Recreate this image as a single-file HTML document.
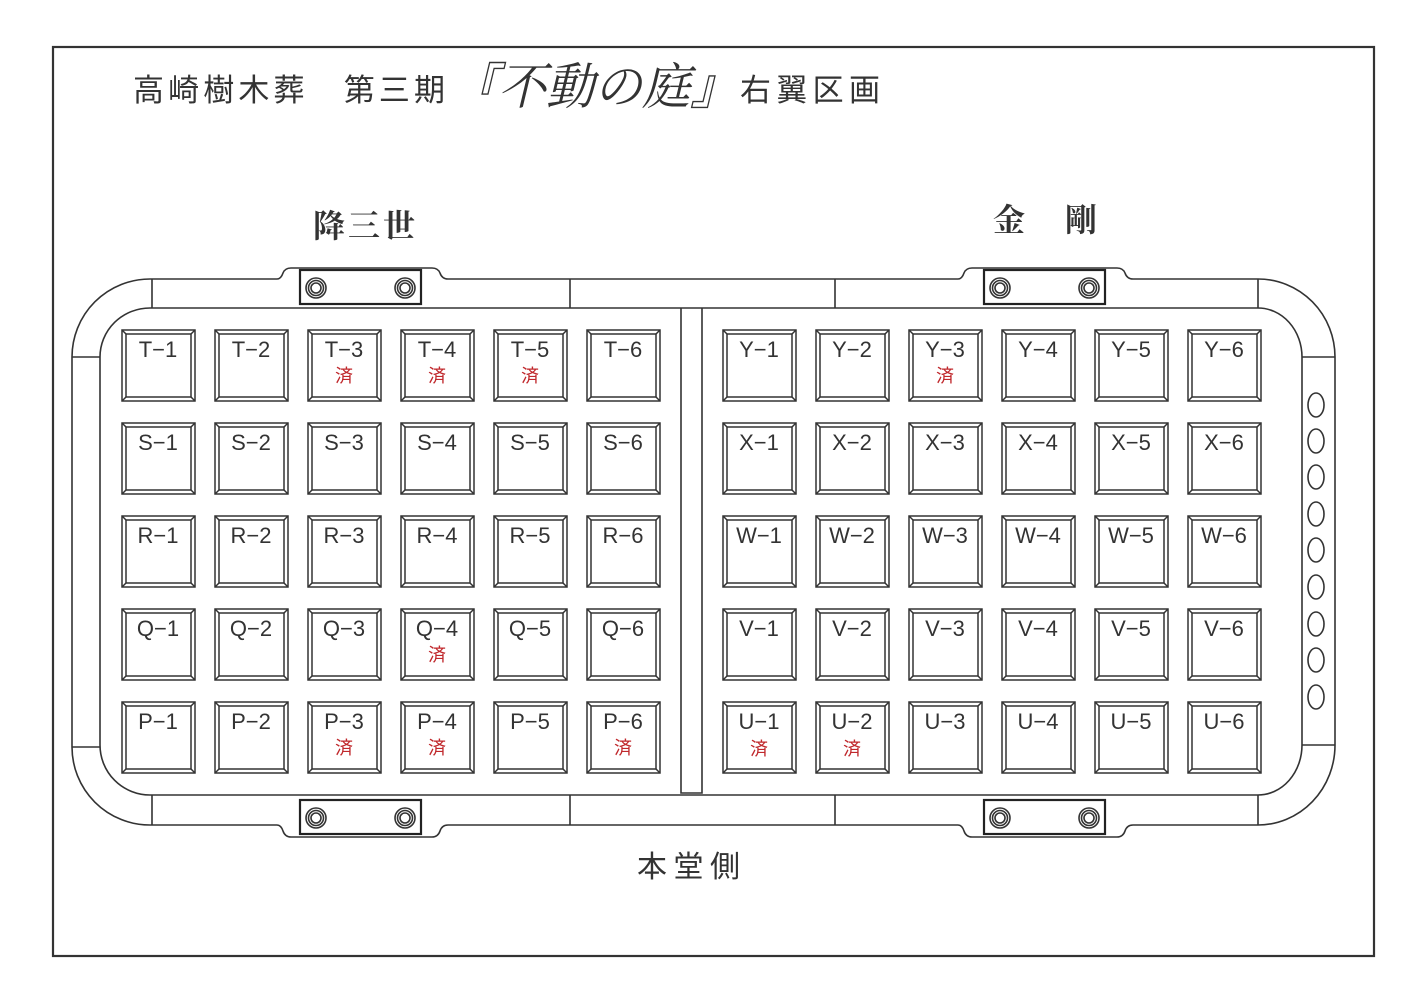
<!DOCTYPE html>
<html><head><meta charset="utf-8"><style>
html,body{margin:0;padding:0;background:#fff}
svg{display:block}
.l{font-family:"Liberation Sans","DejaVu Sans",sans-serif;font-size:22px;fill:#333;text-anchor:middle}
.d{font-family:"Liberation Sans","Noto Sans CJK JP",sans-serif;font-size:18px;fill:#c0282c;text-anchor:middle}
.t{font-family:"Liberation Sans","Noto Sans CJK JP",sans-serif;fill:#333}
.s{font-family:"Liberation Serif","Noto Serif CJK SC",serif;fill:#333}
</style></head><body>
<svg width="1415" height="1000" viewBox="0 0 1415 1000" xmlns="http://www.w3.org/2000/svg">
<defs>
<g id="sq" fill="none" stroke="#333" stroke-width="1.5">
<rect x="0" y="0" width="73" height="71"/>
<rect x="4" y="4" width="65" height="63"/>
<path d="M0 0L4 4M73 0L69 4M0 71L4 67M73 71L69 67"/>
</g>
<g id="bolt" fill="none" stroke="#333" stroke-width="1.6">
<circle r="10"/><circle r="7.5"/><circle r="5"/>
</g>
<g id="plate">
<rect x="0" y="0" width="121" height="34" fill="none" stroke="#222" stroke-width="2.2"/>
<use href="#bolt" x="16" y="18"/><use href="#bolt" x="105" y="18"/>
</g>
</defs>
<rect x="53" y="47" width="1321" height="909" fill="none" stroke="#333" stroke-width="2.2"/>

<text class="t" x="133" y="101" font-size="31" textLength="312" lengthAdjust="spacing">高崎樹木葬　第三期</text>
<text class="s" x="450" y="104" font-size="50" font-style="italic" textLength="288" lengthAdjust="spacingAndGlyphs">『不動の庭』</text>
<text class="t" x="740" y="101" font-size="31" textLength="140" lengthAdjust="spacing">右翼区画</text>
<text class="s" x="313" y="237" font-size="32" font-weight="bold" textLength="102" lengthAdjust="spacing">降三世</text>
<text class="s" x="993" y="231" font-size="32" font-weight="bold" textLength="104" lengthAdjust="spacing">金　剛</text>
<text class="t" x="637" y="877" font-size="30" textLength="103" lengthAdjust="spacing">本堂側</text>

<g fill="none" stroke="#333" stroke-width="1.6">
<path d="M150 279H277Q281 279 283 273Q285 268 291 268H432Q438 268 440 273Q442 279 448 279H958Q962 279 964 273Q966 268 972 268H1117Q1123 268 1125 273Q1127 279 1133 279H1258A77 78 0 0 1 1335 357V745A77 80 0 0 1 1258 825H1133Q1127 825 1125 831Q1123 837 1117 837H972Q966 837 964 831Q962 825 958 825H448Q442 825 440 831Q438 837 432 837H291Q285 837 283 831Q281 825 277 825H150A78 78 0 0 1 72 747V357A78 78 0 0 1 150 279Z"/>
<path d="M150 308H1258A44 49 0 0 1 1302 357V745A44 50 0 0 1 1258 795H150A50 50 0 0 1 100 745V357A50 49 0 0 1 150 308Z"/>
<path d="M152 279V308M570 279V308M835 279V308M1258 279V308M72 357H100M72 747H100M1302 357H1335M1302 745H1335M152 795V825M570 795V825M835 795V825M1258 795V825"/>
<path d="M681 308V793H702V308"/>
<g>
<ellipse cx="1316" cy="405" rx="8" ry="12"/><ellipse cx="1316" cy="441" rx="8" ry="12"/><ellipse cx="1316" cy="477" rx="8" ry="12"/><ellipse cx="1316" cy="514" rx="8" ry="12"/><ellipse cx="1316" cy="550" rx="8" ry="12"/><ellipse cx="1316" cy="587" rx="8" ry="12"/><ellipse cx="1316" cy="624" rx="8" ry="12"/><ellipse cx="1316" cy="660" rx="8" ry="12"/><ellipse cx="1316" cy="697" rx="8" ry="12"/>
</g>
</g>
<use href="#plate" x="300" y="270"/><use href="#plate" x="984" y="270"/>
<use href="#plate" x="300" y="800"/><use href="#plate" x="984" y="800"/>

<g>
<use href="#sq" x="122" y="330"/><use href="#sq" x="215" y="330"/><use href="#sq" x="308" y="330"/><use href="#sq" x="401" y="330"/><use href="#sq" x="494" y="330"/><use href="#sq" x="587" y="330"/>
<use href="#sq" x="723" y="330"/><use href="#sq" x="816" y="330"/><use href="#sq" x="909" y="330"/><use href="#sq" x="1002" y="330"/><use href="#sq" x="1095" y="330"/><use href="#sq" x="1188" y="330"/>
<use href="#sq" x="122" y="423"/><use href="#sq" x="215" y="423"/><use href="#sq" x="308" y="423"/><use href="#sq" x="401" y="423"/><use href="#sq" x="494" y="423"/><use href="#sq" x="587" y="423"/>
<use href="#sq" x="723" y="423"/><use href="#sq" x="816" y="423"/><use href="#sq" x="909" y="423"/><use href="#sq" x="1002" y="423"/><use href="#sq" x="1095" y="423"/><use href="#sq" x="1188" y="423"/>
<use href="#sq" x="122" y="516"/><use href="#sq" x="215" y="516"/><use href="#sq" x="308" y="516"/><use href="#sq" x="401" y="516"/><use href="#sq" x="494" y="516"/><use href="#sq" x="587" y="516"/>
<use href="#sq" x="723" y="516"/><use href="#sq" x="816" y="516"/><use href="#sq" x="909" y="516"/><use href="#sq" x="1002" y="516"/><use href="#sq" x="1095" y="516"/><use href="#sq" x="1188" y="516"/>
<use href="#sq" x="122" y="609"/><use href="#sq" x="215" y="609"/><use href="#sq" x="308" y="609"/><use href="#sq" x="401" y="609"/><use href="#sq" x="494" y="609"/><use href="#sq" x="587" y="609"/>
<use href="#sq" x="723" y="609"/><use href="#sq" x="816" y="609"/><use href="#sq" x="909" y="609"/><use href="#sq" x="1002" y="609"/><use href="#sq" x="1095" y="609"/><use href="#sq" x="1188" y="609"/>
<use href="#sq" x="122" y="702"/><use href="#sq" x="215" y="702"/><use href="#sq" x="308" y="702"/><use href="#sq" x="401" y="702"/><use href="#sq" x="494" y="702"/><use href="#sq" x="587" y="702"/>
<use href="#sq" x="723" y="702"/><use href="#sq" x="816" y="702"/><use href="#sq" x="909" y="702"/><use href="#sq" x="1002" y="702"/><use href="#sq" x="1095" y="702"/><use href="#sq" x="1188" y="702"/>
</g>
<g>
<text class="l" x="158" y="357">T−1</text><text class="l" x="251" y="357">T−2</text><text class="l" x="344" y="357">T−3</text><text class="l" x="437" y="357">T−4</text><text class="l" x="530" y="357">T−5</text><text class="l" x="623" y="357">T−6</text>
<text class="l" x="759" y="357">Y−1</text><text class="l" x="852" y="357">Y−2</text><text class="l" x="945" y="357">Y−3</text><text class="l" x="1038" y="357">Y−4</text><text class="l" x="1131" y="357">Y−5</text><text class="l" x="1224" y="357">Y−6</text>
<text class="l" x="158" y="450">S−1</text><text class="l" x="251" y="450">S−2</text><text class="l" x="344" y="450">S−3</text><text class="l" x="437" y="450">S−4</text><text class="l" x="530" y="450">S−5</text><text class="l" x="623" y="450">S−6</text>
<text class="l" x="759" y="450">X−1</text><text class="l" x="852" y="450">X−2</text><text class="l" x="945" y="450">X−3</text><text class="l" x="1038" y="450">X−4</text><text class="l" x="1131" y="450">X−5</text><text class="l" x="1224" y="450">X−6</text>
<text class="l" x="158" y="543">R−1</text><text class="l" x="251" y="543">R−2</text><text class="l" x="344" y="543">R−3</text><text class="l" x="437" y="543">R−4</text><text class="l" x="530" y="543">R−5</text><text class="l" x="623" y="543">R−6</text>
<text class="l" x="759" y="543">W−1</text><text class="l" x="852" y="543">W−2</text><text class="l" x="945" y="543">W−3</text><text class="l" x="1038" y="543">W−4</text><text class="l" x="1131" y="543">W−5</text><text class="l" x="1224" y="543">W−6</text>
<text class="l" x="158" y="636">Q−1</text><text class="l" x="251" y="636">Q−2</text><text class="l" x="344" y="636">Q−3</text><text class="l" x="437" y="636">Q−4</text><text class="l" x="530" y="636">Q−5</text><text class="l" x="623" y="636">Q−6</text>
<text class="l" x="759" y="636">V−1</text><text class="l" x="852" y="636">V−2</text><text class="l" x="945" y="636">V−3</text><text class="l" x="1038" y="636">V−4</text><text class="l" x="1131" y="636">V−5</text><text class="l" x="1224" y="636">V−6</text>
<text class="l" x="158" y="729">P−1</text><text class="l" x="251" y="729">P−2</text><text class="l" x="344" y="729">P−3</text><text class="l" x="437" y="729">P−4</text><text class="l" x="530" y="729">P−5</text><text class="l" x="623" y="729">P−6</text>
<text class="l" x="759" y="729">U−1</text><text class="l" x="852" y="729">U−2</text><text class="l" x="945" y="729">U−3</text><text class="l" x="1038" y="729">U−4</text><text class="l" x="1131" y="729">U−5</text><text class="l" x="1224" y="729">U−6</text>
</g>
<g>
<text class="d" x="344" y="382">済</text><text class="d" x="437" y="382">済</text><text class="d" x="530" y="382">済</text><text class="d" x="945" y="382">済</text>
<text class="d" x="437" y="661">済</text>
<text class="d" x="344" y="754">済</text><text class="d" x="437" y="754">済</text><text class="d" x="623" y="754">済</text>
<text class="d" x="759" y="755">済</text><text class="d" x="852" y="755">済</text>
</g>
</svg>
</body></html>
